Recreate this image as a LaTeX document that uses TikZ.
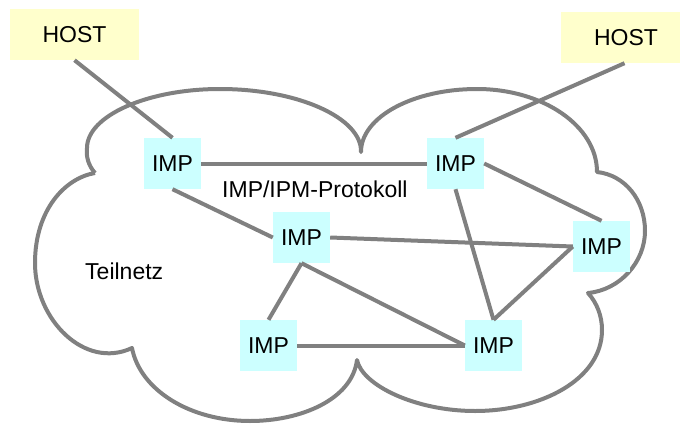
\documentclass[tikz,border=0pt]{standalone}
\usepackage{fontspec}
\setmainfont{Liberation Sans}
\definecolor{linegray}{RGB}{128,128,128}
\definecolor{hostyellow}{RGB}{255,255,204}
\definecolor{impcyan}{RGB}{204,255,255}
\begin{document}
\begin{tikzpicture}[x=1pt,y=-1pt,
  every node/.style={font=\fontsize{23}{27}\selectfont, inner sep=0pt},
  hostbox/.style={fill=hostyellow, minimum height=51pt},
  impbox/.style={fill=impcyan, minimum width=57pt, minimum height=51pt},
  link/.style={draw=linegray, line width=4pt},
  cloudline/.style={draw=linegray, line width=4pt, line join=round}]
\useasboundingbox (0,0) rectangle (680,423);

% the subnet cloud, drawn lobe by lobe clockwise
\path[cloudline]
  (95,173) .. controls (88,165) and (86,156) .. (87,148)
  .. controls (87,116) and (147,89) .. (220,89)
  .. controls (298,89) and (362,118) .. (361,152)
  .. controls (361,117) and (413,89) .. (477,89)
  .. controls (543,89) and (597,126) .. (597,172)
  .. controls (625,175) and (645,200) .. (645,231)
  .. controls (645,262) and (620,290) .. (588,293)
  .. controls (597,303) and (602,316) .. (602,330)
  .. controls (602,380) and (540,411) .. (475,411)
  .. controls (415,411) and (362,385) .. (357,360)
  .. controls (352,400) and (300,421) .. (250,421)
  .. controls (190,421) and (140,390) .. (132,348)
  .. controls (85,370) and (35,320) .. (35,263)
  .. controls (35,210) and (65,178) .. (95,173);

% hosts and IMPs
\node[hostbox, minimum width=129pt] (h1) at (74.5,34.5) {HOST};
\node[hostbox, minimum width=119pt] (h2) at (620.5,37.5) {\hspace*{11pt}HOST};
\node[impbox] (i1) at (172.5,163.5) {IMP};
\node[impbox] (i2) at (455.5,163.5) {IMP};
\node[impbox] (i3) at (301.5,237.5) {IMP};
\node[impbox] (i4) at (268.5,345.5) {IMP};
\node[impbox] (i5) at (601.5,246.5) {IMP};
\node[impbox] (i6) at (493.5,345.5) {IMP};

% connections
\draw[link] (h1.south) -- (i1.north);
\draw[link] ([xshift=4pt]h2.south) -- (i2.north);
\draw[link] (i1.east) -- (i2.west);
\draw[link] (i1.south) -- (i3.west);
\draw[link] (i2.east) -- (i5.north);
\draw[link] (i2.south) -- (i6.north);
\draw[link] (i3.east) -- (i5.west);
\draw[link] (i5.west) -- (i6.north);
\draw[link] (i3.south) -- (i4.north);
\draw[link] (i3.south) -- (i6.west);
\draw[link] (i4.east) -- (i6.west);

% labels
\node[anchor=base west] (proto) at (222,197) {IMP/IPM-Protokoll};
\node[anchor=base west] (subnet) at (85,279) {Teilnetz};
\end{tikzpicture}
\end{document}
